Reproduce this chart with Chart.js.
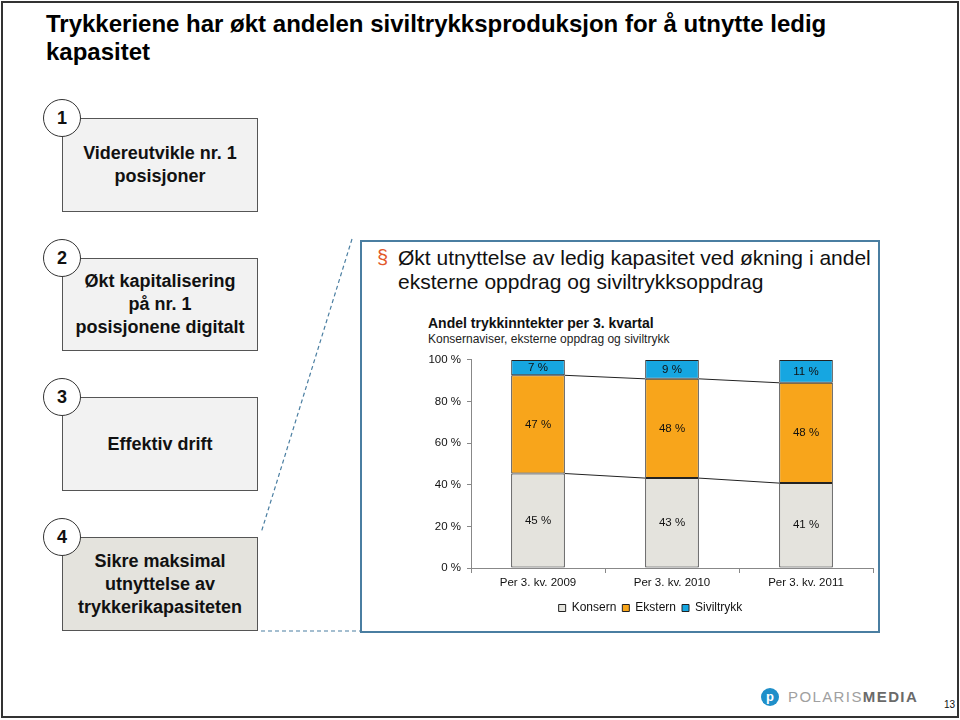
<!DOCTYPE html>
<html>
<head>
<meta charset="utf-8">
<script src="https://cdn.jsdelivr.net/npm/chart.js@4"></script>
<style>
  body { margin: 0; background: #fff; font-family: "Liberation Sans", Arial, sans-serif; }
  #slide { position: relative; width: 960px; height: 720px; overflow: hidden; }
  #frame { position: absolute; left: 1px; top: 1px; width: 954px; height: 713px; border: 2px solid #333; }
  h1 { position: absolute; left: 46px; top: 10px; margin: 0; width: 860px; font-size: 24px; line-height: 28px; font-weight: bold; color: #000; }
  .box { position: absolute; left: 62px; width: 194px; border: 1.5px solid #555; background: #f2f2f2;
         display: flex; align-items: center; justify-content: center; text-align: center;
         font-size: 18px; font-weight: bold; line-height: 23px; color: #111; }
  .num { position: absolute; width: 36px; height: 36px; border: 1.5px solid #333; border-radius: 50%; background: #fff;
         font-size: 18px; font-weight: bold; line-height: 36px; text-align: center; color: #111; }
  #panel { position: absolute; left: 360px; top: 240px; width: 516px; height: 389px; border: 2px solid #4a7ea1; }
  #bullet { position: absolute; left: 377px; top: 246px; font-size: 20px; color: #e2582a; }
  #lead { position: absolute; left: 398px; top: 246px; width: 480px; font-size: 21px; line-height: 24px; color: #111; }
  #ctitle { position: absolute; left: 428px; top: 315px; font-size: 14px; font-weight: bold; color: #111; }
  #csub { position: absolute; left: 428px; top: 332px; font-size: 12px; color: #222; }
  #chartBox { position: absolute; left: 420px; top: 347px; width: 460px; height: 281px; }
  #logo { position: absolute; left: 761px; top: 688px; width: 18px; height: 18px; border-radius: 50%; background: #1f8fc9;
          color: #fff; font-size: 13px; font-weight: bold; line-height: 17px; text-align: center; }
  #brand { position: absolute; left: 788px; top: 688px; font-size: 15px; letter-spacing: 1.4px; color: #a0a0a0; }
  #brand b { color: #6a6a6a; }
  #page { position: absolute; left: 944px; top: 699px; font-size: 10px; color: #111; }
</style>
</head>
<body>
<div id="slide">
  <div id="frame"></div>
  <h1>Trykkeriene har økt andelen siviltrykksproduksjon for å utnytte ledig kapasitet</h1>

  <div class="box" style="top:118px;height:92px;">Videreutvikle nr. 1<br>posisjoner</div>
  <div class="box" style="top:258px;height:91px;">Økt kapitalisering<br>på nr. 1<br>posisjonene digitalt</div>
  <div class="box" style="top:397px;height:92px;">Effektiv drift</div>
  <div class="box" style="top:537px;height:92px;background:#e4e3dd;">Sikre maksimal<br>utnyttelse av<br>trykkerikapasiteten</div>
  <div class="num" style="left:43px;top:99px;">1</div>
  <div class="num" style="left:43px;top:239px;">2</div>
  <div class="num" style="left:43px;top:378px;">3</div>
  <div class="num" style="left:43px;top:518px;">4</div>

  <svg width="960" height="720" style="position:absolute;left:0;top:0;">
    <line x1="352" y1="239" x2="261" y2="533" stroke="#4a7ea1" stroke-width="1.2" stroke-dasharray="4 3"/>
    <line x1="261" y1="631" x2="360" y2="631" stroke="#4a7ea1" stroke-width="1.2" stroke-dasharray="4 3"/>
  </svg>

  <div id="panel"></div>
  <div id="bullet">§</div>
  <div id="lead">Økt utnyttelse av ledig kapasitet ved økning i andel eksterne oppdrag og siviltrykksoppdrag</div>
  <div id="ctitle">Andel trykkinntekter per 3. kvartal</div>
  <div id="csub">Konsernaviser, eksterne oppdrag og siviltrykk</div>
  <div id="chartBox"><canvas id="myChart"></canvas></div>

  <div id="logo">p</div>
  <div id="brand">POLARIS<b>MEDIA</b></div>
  <div id="page">13</div>
</div>

<script>
// Chart data
const categories = ["Per 3. kv. 2009", "Per 3. kv. 2010", "Per 3. kv. 2011"];
const konsern = [45.4, 43.2, 40.8];
const ekstern = [47.2, 47.7, 48.2];
const siviltrykk = [7.4, 9.1, 11.0];
const yTicks = [0, 20, 40, 60, 80, 100];

// Labels centred in each segment
const segmentLabels = {
  id: "segmentLabels",
  afterDatasetsDraw(chart) {
    const ctx = chart.ctx;
    ctx.save();
    ctx.font = '11.5px "Liberation Sans", Arial, sans-serif';
    ctx.fillStyle = "#111";
    ctx.textAlign = "center";
    ctx.textBaseline = "middle";
    chart.data.datasets.forEach((ds, d) => {
      chart.getDatasetMeta(d).data.forEach((bar, i) => {
        ctx.fillText(Math.round(ds.data[i]) + " %", bar.x, (bar.y + bar.base) / 2);
      });
    });
    ctx.restore();
  },
};

// Excel-style series lines between the stacked bars
const seriesLines = {
  id: "seriesLines",
  afterDatasetsDraw(chart) {
    const ctx = chart.ctx;
    ctx.save();
    ctx.strokeStyle = "#222";
    ctx.lineWidth = 1;
    [0, 1].forEach((d) => {
      const bars = chart.getDatasetMeta(d).data;
      for (let i = 0; i < bars.length - 1; i++) {
        const a = bars[i];
        const b = bars[i + 1];
        ctx.beginPath();
        ctx.moveTo(a.x + a.width / 2, a.y);
        ctx.lineTo(b.x - b.width / 2, b.y);
        ctx.stroke();
      }
    });
    ctx.restore();
  },
};

const tickFont = { family: '"Liberation Sans", Arial, sans-serif', size: 11.5 };

const ctx = document.getElementById("myChart").getContext("2d");
const myChart = new Chart(ctx, {
  type: "bar",
  data: {
    labels: categories,
    datasets: [
      { label: "Konsern", data: konsern, backgroundColor: "#e4e3dd" },
      { label: "Ekstern", data: ekstern, backgroundColor: "#f8a51b" },
      { label: "Siviltrykk", data: siviltrykk, backgroundColor: "#16a6e1" },
    ].map((ds) => ({
      ...ds,
      borderColor: "#222",
      borderWidth: 1,
      borderSkipped: false,
      categoryPercentage: 1,
      barPercentage: 0.4,
    })),
  },
  options: {
    responsive: true,
    maintainAspectRatio: false,
    animation: false,
    layout: { padding: { left: 8, right: 7, top: 9, bottom: 4 } },
    plugins: {
      tooltip: { enabled: false },
      legend: {
        position: "bottom",
        labels: {
          boxWidth: 7,
          boxHeight: 7,
          padding: 6,
          color: "#111",
          font: { family: '"Liberation Sans", Arial, sans-serif', size: 12 },
        },
      },
    },
    scales: {
      x: {
        stacked: true,
        grid: { display: true, drawOnChartArea: false, offset: true, tickLength: 5, color: "#888" },
        border: { color: "#888" },
        ticks: { color: "#111", font: tickFont, padding: 3 },
        afterFit: (scale) => { scale.height = 28; },
      },
      y: {
        stacked: true,
        min: 0,
        max: 100,
        afterBuildTicks: (scale) => { scale.ticks = yTicks.map((v) => ({ value: v })); },
        grid: { drawOnChartArea: false, tickLength: 4, color: "#888" },
        border: { color: "#888" },
        ticks: { color: "#111", font: tickFont, padding: 6, callback: (v) => v + " %" },
        afterFit: (scale) => { scale.width = 43; },
      },
    },
  },
  plugins: [seriesLines, segmentLabels],
});
</script>
</body>
</html>
